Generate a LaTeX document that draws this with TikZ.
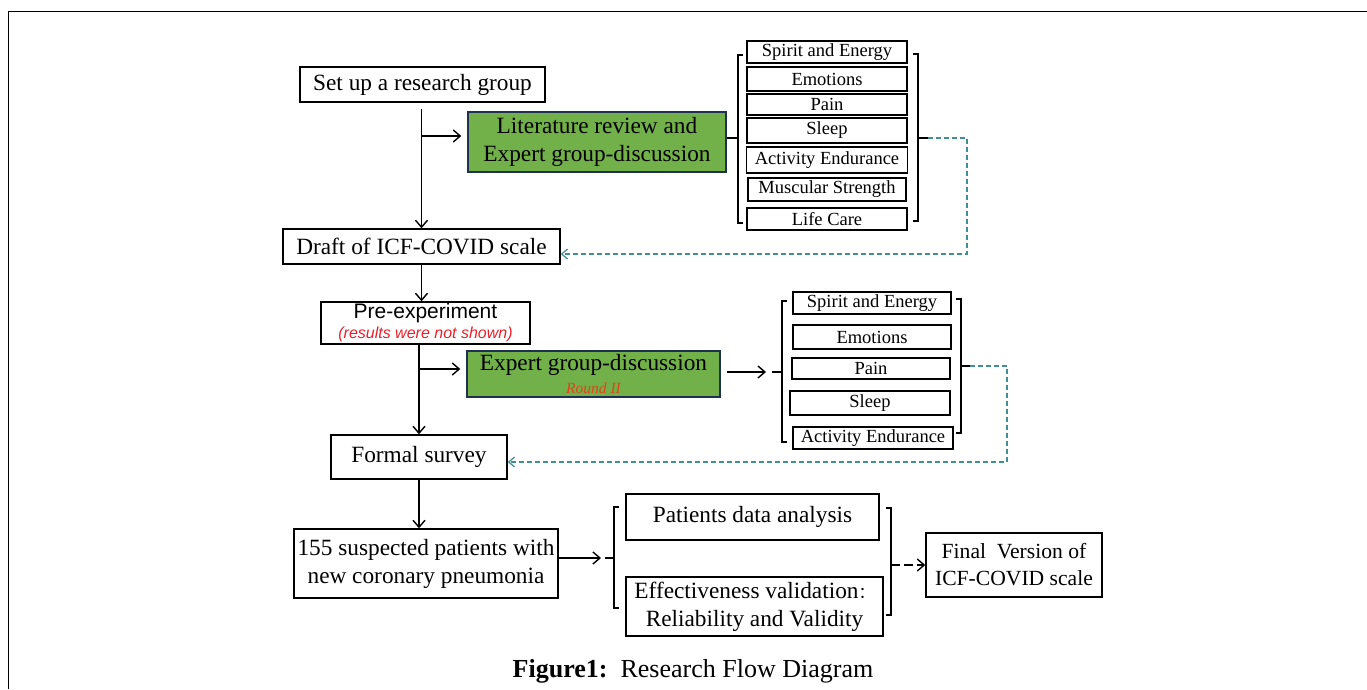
\documentclass[tikz,border=0pt]{standalone}
\usepackage{fontspec}
\setmainfont{Liberation Serif}
\newfontfamily\arialf{Liberation Sans}
\newfontfamily\cjkf{Noto Sans CJK SC}
\usetikzlibrary{arrows.meta,calc}
\definecolor{grn}{HTML}{72B04A}
\definecolor{navy}{HTML}{1F3050}
\definecolor{tealdash}{HTML}{3F9090}
\definecolor{redt}{HTML}{E8202A}
\definecolor{oranget}{HTML}{E04418}
\begin{document}
\begin{tikzpicture}[x=1pt,y=-1pt,
  box/.style={draw, line width=1.4pt, inner sep=0pt, align=center, font=\fontsize{23.3}{28}\selectfont},
  sbox/.style={draw, line width=1.4pt, inner sep=0pt, align=center, font=\fontsize{18.5}{20}\selectfont},
  gbox/.style={box, fill=grn, draw=navy},
  arr/.style={line width=1.5pt, -{Straight Barb[length=7pt,width=12pt,line width=1.4pt]}},
  ln/.style={line width=1.5pt},
  brk/.style={line width=1.4pt},
  dsh/.style={draw=tealdash, line width=1.2pt, dash pattern=on 5pt off 3pt, -{Straight Barb[length=6pt,width=10pt,line width=1.2pt]}},
]
\useasboundingbox (0,0) rectangle (1367,689);
\draw[line width=1pt] (8,689) -- (8,11) -- (1367,11);

% main column
\node[box, minimum width=245pt, minimum height=35pt] (setup) at (422.5,84.5) {Set up a research group};
\node[gbox, minimum width=258pt, minimum height=60pt] (lit) at (597,142) {Literature review and\\Expert group-discussion};
\node[box, minimum width=277pt, minimum height=35pt] (draft) at (421.5,246.5) {Draft of ICF-COVID scale};
\node[box, minimum width=209pt, minimum height=42pt, font=\arialf\fontsize{21}{20}\selectfont] (pre) at (425.5,323) {Pre-experiment\\{\fontsize{16}{16}\selectfont\itshape\color{redt}(results were not shown)}};
\node[gbox, minimum width=253pt, minimum height=46pt] (exp) at (593.5,374) {Expert group-discussion\\[-5pt]{\fontsize{15.5}{15}\selectfont\itshape\color{oranget}Round II}};
\node[box, minimum width=176pt, minimum height=44pt] (formal) at (419,457) {Formal survey};
\node[box, minimum width=264pt, minimum height=69pt] (p155) at (426,563.5) {155 suspected patients with\\new coronary pneumonia};
\node[box, minimum width=253pt, minimum height=46pt] (pat) at (752.5,517) {Patients data analysis};
\node[box, minimum width=257pt, minimum height=59pt] (eff) at (754.5,606.5) {Effectiveness validation{\cjkf\fontsize{16}{16}\selectfont ：}\\Reliability and Validity};
\node[box, minimum width=176pt, minimum height=64pt, font=\fontsize{21.6}{27}\selectfont] (final) at (1014,565) {Final\ \ Version of\\ICF-COVID scale};

% item group 1
\node[sbox, minimum width=160pt, minimum height=22pt] (s1) at (827,52) {Spirit and Energy};
\node[sbox, minimum width=160pt, minimum height=24pt] (s2) at (827,79) {Emotions};
\node[sbox, minimum width=160pt, minimum height=21pt] (s3) at (827,104.5) {Pain};
\node[sbox, minimum width=160pt, minimum height=25pt] (s4) at (827,130.5) {Sleep};
\node[sbox, minimum width=161pt, minimum height=26pt] (s5) at (827,160) {Activity Endurance};
\node[sbox, minimum width=158pt, minimum height=23pt] (s6) at (827,189.5) {Muscular Strength};
\node[sbox, minimum width=160pt, minimum height=22pt] (s7) at (827,219) {Life Care};

% item group 2
\node[sbox, minimum width=158pt, minimum height=22pt] (t1) at (872,303) {Spirit and Energy};
\node[sbox, minimum width=158pt, minimum height=24pt] (t2) at (872,337) {Emotions};
\node[sbox, minimum width=158pt, minimum height=21pt] (t3) at (871,368.5) {Pain};
\node[sbox, minimum width=160pt, minimum height=24pt] (t4) at (870,403) {Sleep};
\node[sbox, minimum width=160pt, minimum height=22pt] (t5) at (873,438) {Activity Endurance};

% caption
\node[anchor=base, inner sep=0pt, font=\fontsize{26}{30}\selectfont] (cap) at (693,677) {\textbf{Figure1:}\ \ Research Flow Diagram};

% brackets
\draw[brk] (743,55) -- (738,55) -- (738,223) -- (743,223);
\draw[brk] (913,54) -- (918,54) -- (918,221) -- (913,221);
\draw[brk] (787,301) -- (782,301) -- (782,442) -- (787,442);
\draw[brk] (956,299) -- (961,299) -- (961,433) -- (956,433);
\draw[brk] (619,507) -- (614,507) -- (614,608) -- (619,608);
\draw[brk] (886,508) -- (891,508) -- (891,615) -- (886,615);

\coordinate (b1l) at (738,138);
\coordinate (b1r) at (918,138);
\coordinate (d1) at (928,138);
\coordinate (c1) at (967,254);
\coordinate (b2l) at (782,372);
\coordinate (a2) at (766,372);
\coordinate (b2r) at (961,366);
\coordinate (d2) at (970,366);
\coordinate (c2) at (1007,462);
\coordinate (b3l) at (614,558);
\coordinate (a3) at (601,558);
\coordinate (b3r) at (891,565);
\coordinate (j1) at (421,136);
\coordinate (j2) at (419,369);

% connectors
\draw[arr, shorten <=6pt] (setup.south -| draft.north) -- (draft.north);
\draw[arr, shorten >=6pt] (j1) -- (j1 -| lit.west);
\draw[ln] (lit.east |- b1l) -- (b1l);
\draw[ln] (b1r) -- (d1);
\draw[dsh] (d1) -| (c1) -- (c1 -| draft.east);

\draw[arr] (draft.south) -- (draft.south |- pre.north);
\draw[arr] (pre.south -| formal.north) -- (formal.north);
\draw[arr, shorten >=6pt] (j2) -- (j2 -| exp.west);
\draw[arr, shorten <=6pt] (exp.east |- a2) -- (a2);
\draw[ln] ($(a2)+(6,0)$) -- (b2l);
\draw[ln] (b2r) -- (d2);
\draw[dsh] (d2) -| (c2) -- (c2 -| formal.east);

\draw[arr] (formal.south) -- (formal.south |- p155.north);
\draw[arr] (p155.east |- a3) -- (a3);
\draw[ln] ($(a3)+(4,0)$) -- (b3l);
\draw[arr, dash pattern=on 9pt off 4pt] (b3r) -- (final.west |- b3r);
\end{tikzpicture}
\end{document}
